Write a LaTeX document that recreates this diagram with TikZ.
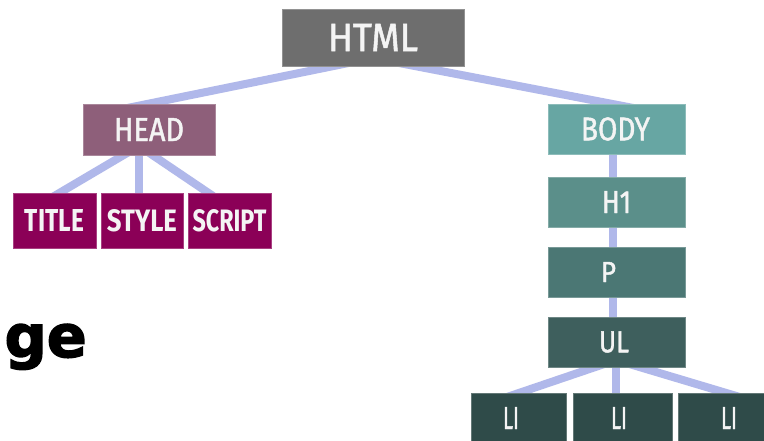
\documentclass[tikz,border=0pt]{standalone}
\usepackage{fontspec}
\usepackage{graphicx}
\setsansfont{Fira Sans}
\newfontfamily\labelfont[FakeBold=1.4]{Fira Sans}
\newfontfamily\kidfont{Fira Sans}
\newfontfamily\heavyfont[FakeBold=2.4]{DejaVu Sans}
\usetikzlibrary{calc,backgrounds}

% label scaled to an exact cap width/height, optionally shifted sideways
\newcommand\lbl[4][0pt]{\makebox[0pt]{\hspace{#1}\resizebox{#2}{#3}{#4}}}

\definecolor{cHtml}{HTML}{6E6E6E}
\definecolor{cHead}{HTML}{8E5F7A}
\definecolor{cHeadKid}{HTML}{8B0057}
\definecolor{cBody}{HTML}{67A6A3}
\definecolor{cHone}{HTML}{5B8F8A}
\definecolor{cPara}{HTML}{4B7774}
\definecolor{cList}{HTML}{3E5F5D}
\definecolor{cItem}{HTML}{2F4B49}
\definecolor{cLink}{HTML}{B0B8EA}
\definecolor{cText}{HTML}{F4F4F4}

\tikzset{
  tag/.style={rectangle, inner sep=0pt, fill=#1, draw=#1!75!white,
              line width=0.8pt, text=cText, font=\labelfont},
  kid/.style={tag=cHeadKid, minimum width=83pt, minimum height=55pt,
              font=\kidfont\bfseries},
  link/.style={draw=cLink, line width=8pt},
}

\begin{document}
\begin{tikzpicture}[x=1pt,y=-1pt]
\useasboundingbox (0,0) rectangle (764,440);

% root
\node[tag=cHtml, minimum width=182pt, minimum height=57pt] (html) at (373,37.5) {\lbl{90pt}{27pt}{HTML}};

% head branch
\node[tag=cHead, minimum width=132pt, minimum height=51pt] (head) at (149,129.5) {\lbl{70pt}{23pt}{HEAD}};
\node[kid] (title) at (54.5,220.5) {\lbl{59pt}{22pt}{TITLE}};
\node[kid, minimum width=82pt] (style) at (142,220.5) {\lbl{70pt}{22pt}{STYLE}};
\node[kid] (script) at (229.5,220.5) {\lbl{74pt}{22pt}{SCRIPT}};

% body branch
\node[tag=cBody, minimum width=137pt, minimum height=50pt] (body) at (616.5,129) {\lbl[-2pt]{69pt}{23pt}{BODY}};
\node[tag=cHone, minimum width=137pt, minimum height=50pt] (hone) at (616.5,202) {\lbl{29pt}{22pt}{H1}};
\node[tag=cPara, minimum width=137pt, minimum height=50pt] (para) at (616.5,272) {\lbl[-16pt]{15pt}{20pt}{P}};
\node[tag=cList, minimum width=137pt, minimum height=50pt] (list) at (616.5,342) {\lbl[-5pt]{30pt}{21pt}{UL}};
\node[tag=cItem, minimum width=95pt, minimum height=50pt] (itemA) at (518.5,418) {\lbl[-15pt]{16pt}{22pt}{LI}};
\node[tag=cItem, minimum width=99pt, minimum height=50pt] (itemB) at (622.5,418) {\lbl[-7pt]{16pt}{22pt}{LI}};
\node[tag=cItem, minimum width=102pt, minimum height=50pt] (itemC) at (729,418) {\lbl{16pt}{22pt}{LI}};

% heading word, running off the left edge
\node[anchor=base east, inner sep=0pt, text=black,
      font=\heavyfont\bfseries\fontsize{59}{59}\selectfont] (word) at (87,357) {ge};

% junction points hidden under the parent boxes
\coordinate (rootJ) at (373,58);
\coordinate (headJ) at (139,146);
\coordinate (listJ) at (616,360);

\begin{scope}[on background layer]
  \fill[white] (0,0) rectangle (764,440);
  \draw[link] (rootJ) -- ($(rootJ)!1.15!(head.north)$);
  \draw[link] (rootJ) -- ($(rootJ)!1.15!([xshift=-6pt]body.north)$);
  \draw[link] (headJ) -- ($(headJ)!1.2!([xshift=5.5pt]title.north)$);
  \draw[link] (headJ) -- ($(headJ)!1.2!([xshift=-3pt]style.north)$);
  \draw[link] (headJ) -- ($(headJ)!1.2!([xshift=-21.5pt]script.north)$);
  \draw[link] ([xshift=-3.5pt]body.center) -- ([xshift=-3.5pt]hone.center);
  \draw[link] ([xshift=-3.5pt]hone.center) -- ([xshift=-3.5pt]para.center);
  \draw[link] ([xshift=-3.5pt]para.center) -- ([xshift=-3.5pt]list.center);
  \draw[link] (listJ) -- ($(listJ)!1.2!([xshift=1.5pt]itemA.north)$);
  \draw[link] (listJ) -- ($(listJ)!1.2!([xshift=-6.5pt]itemB.north)$);
  \draw[link] (listJ) -- ($(listJ)!1.2!([xshift=-4pt]itemC.north)$);
\end{scope}
\end{tikzpicture}
\end{document}
